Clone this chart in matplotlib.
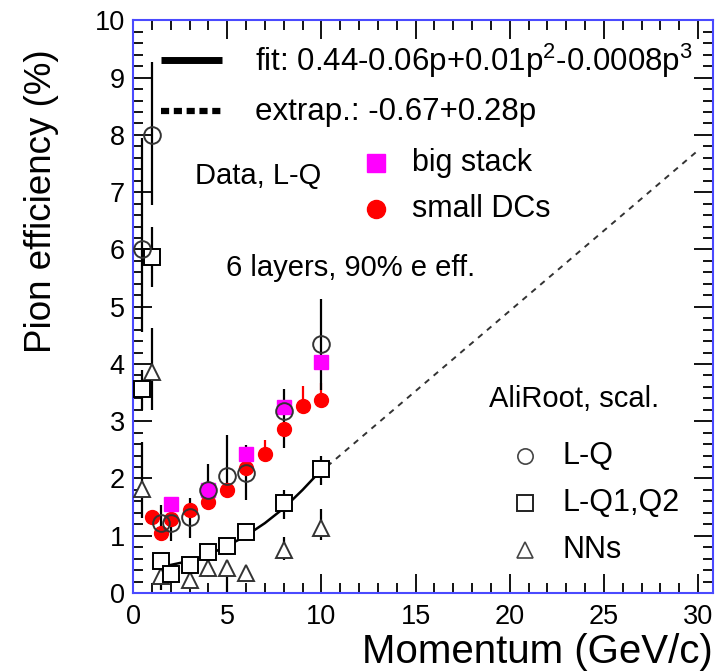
import matplotlib
matplotlib.use("Agg")
import matplotlib.pyplot as plt
from matplotlib.ticker import MultipleLocator

plt.rcParams["font.family"] = ["Liberation Sans", "DejaVu Sans"]
plt.rcParams["mathtext.fontset"] = "custom"
plt.rcParams["mathtext.rm"] = "Liberation Sans"

# Data
lq_x = [0.5, 1, 1.5, 2, 3, 4, 5, 6, 8, 10]
lq_y = [6.0, 8.0, 1.22, 1.22, 1.32, 1.8, 2.05, 2.09, 3.18, 4.34]
lq_lo = [1.45, 1.23, 0.3, 0.32, 0.36, 0.32, 0.34, 0.47, 0.65, 0.79]
lq_hi = [1.95, 1.27, 0.32, 0.46, 0.34, 0.46, 0.71, 0.49, 0.39, 0.79]

bigstack_x = [2, 4, 6, 8, 10]
bigstack_y = [1.55, 1.8, 2.42, 3.25, 4.03]

dc_x = [1, 1.5, 2, 3, 4, 5, 6, 7, 8, 9, 10]
dc_y = [1.33, 1.05, 1.3, 1.45, 1.59, 1.8, 2.19, 2.42, 2.87, 3.26, 3.37]
dc_hi = [0, 0, 0, 0, 0, 0, 0, 0.25, 0, 0.35, 0.3]

sq_x = [0.5, 1, 1.5, 2, 3, 4, 5, 6, 8, 10]
sq_y = [3.57, 5.87, 0.55, 0.34, 0.49, 0.72, 0.82, 1.07, 1.58, 2.16]
sq_lo = [0.38, 0.52, 0.15, 0.1, 0.1, 0.1, 0.1, 0.1, 0.28, 0.28]
sq_hi = [0.32, 0.52, 0.15, 0.1, 0.1, 0.1, 0.1, 0.1, 0.21, 0.23]

tri_x = [0.5, 1, 1.5, 3, 4, 5, 6, 8, 10]
tri_y = [1.82, 3.86, 0.3, 0.23, 0.43, 0.43, 0.35, 0.75, 1.13]
tri_lo = [0.51, 0.67, 0.25, 0.15, 0.15, 0.43, 0.1, 0.17, 0.21]
tri_hi = [0.82, 0.76, 0.25, 0.15, 0.15, 0.15, 0.1, 0.23, 0.33]

fit_x = [1.5, 2, 3, 4, 5, 6, 7, 8, 9, 10]
fit_y = [0.46, 0.49, 0.56, 0.67, 0.82, 1.0, 1.22, 1.48, 1.8, 2.15]

extrap_x = [10.3, 30]
extrap_y = [2.21, 7.73]

FRAME = "#4a4aff"

fig = plt.figure(figsize=(7.27, 6.72), dpi=100)
ax = fig.add_axes([0.183, 0.1176, 0.798, 0.852])

# fit and extrapolation
ax.plot(fit_x, fit_y, color="black", lw=1.8, zorder=3)
ax.plot(extrap_x, extrap_y, color="#333333", lw=1.4, ls=(0, (3, 3)), zorder=3)

# AliRoot simulations (open markers)
ax.errorbar(tri_x, tri_y, yerr=[tri_lo, tri_hi], fmt="none", ecolor="black", elinewidth=1.6, zorder=2)
ax.plot(tri_x, tri_y, ls="none", marker="^", ms=12, mfc="white", mec="#333333", mew=1.4, zorder=4)
ax.errorbar(sq_x, sq_y, yerr=[sq_lo, sq_hi], fmt="none", ecolor="black", elinewidth=1.6, zorder=2)
ax.plot(sq_x, sq_y, ls="none", marker="s", ms=11, mfc="white", mec="black", mew=1.4, zorder=4)

# data
ax.errorbar(dc_x, dc_y, yerr=[[0] * len(dc_hi), dc_hi], fmt="none", ecolor="red", elinewidth=1.6, zorder=2)
ax.plot(dc_x, dc_y, ls="none", marker="o", ms=10, mfc="red", mec="red", zorder=5)
ax.plot(bigstack_x, bigstack_y, ls="none", marker="s", ms=10, mfc="magenta", mec="magenta", zorder=5)

ax.errorbar(lq_x, lq_y, yerr=[lq_lo, lq_hi], fmt="none", ecolor="black", elinewidth=1.6, zorder=2)
ax.plot(lq_x, lq_y, ls="none", marker="o", ms=12, mfc="none", mec="#333333", mew=1.4, zorder=6)

# legends drawn as text like the original
ax.plot([1.5, 4.7], [9.31, 9.31], color="black", lw=5, solid_capstyle="butt")
ax.plot([1.5, 4.7], [8.42, 8.42], color="black", lw=4.5, ls=(0, (1.3, 0.75)), dash_capstyle="butt")
ax.text(6.45, 9.29, "fit: 0.44-0.06p+0.01p$^{2}$-0.0008p$^{3}$", fontsize=22.5, va="center")
ax.text(6.45, 8.4, "extrap.: -0.67+0.28p", fontsize=22.5, va="center")
ax.text(3.3, 7.29, "Data, L-Q", fontsize=21, va="center")
ax.plot([12.9], [7.51], ls="none", marker="s", ms=13, color="magenta")
ax.text(14.8, 7.51, "big stack", fontsize=22, va="center")
ax.plot([12.9], [6.7], ls="none", marker="o", ms=13, color="red")
ax.text(14.8, 6.7, "small DCs", fontsize=22, va="center")
ax.text(4.95, 5.67, "6 layers, 90% e eff.", fontsize=21, va="center")
ax.text(18.9, 3.38, "AliRoot, scal.", fontsize=21, va="center")
ax.plot([20.83], [2.39], ls="none", marker="o", ms=11, mfc="white", mec="#444444", mew=1.2)
ax.text(22.8, 2.39, "L-Q", fontsize=22, va="center")
ax.plot([20.83], [1.57], ls="none", marker="s", ms=11, mfc="white", mec="#222222", mew=1.4)
ax.text(22.8, 1.57, "L-Q1,Q2", fontsize=22, va="center")
ax.plot([20.83], [0.75], ls="none", marker="^", ms=11, mfc="white", mec="#444444", mew=1.2)
ax.text(22.8, 0.75, "NNs", fontsize=22, va="center")

ax.set_xlim(0, 30.8)
ax.set_ylim(0, 10)
ax.xaxis.set_major_locator(MultipleLocator(5))
ax.xaxis.set_minor_locator(MultipleLocator(1))
ax.yaxis.set_major_locator(MultipleLocator(1))
ax.yaxis.set_minor_locator(MultipleLocator(0.2))
ax.tick_params(which="both", direction="in", top=True, right=True, color="black", width=1.3)
ax.tick_params(which="major", length=14, labelsize=19.5)
ax.tick_params(which="minor", length=7)
ax.tick_params(axis="x", which="major", pad=8)
ax.tick_params(axis="y", which="major", pad=6)
for sp in ax.spines.values():
    sp.set_color(FRAME)
    sp.set_linewidth(1.5)

ax.set_xlabel("Momentum (GeV/c)", fontsize=29, loc="right", labelpad=2)
ax.set_ylabel("Pion efficiency (%)", fontsize=26.5, ha="right")
ax.yaxis.set_label_coords(-0.128, 0.95)

fig.savefig("out.png", dpi=100)
